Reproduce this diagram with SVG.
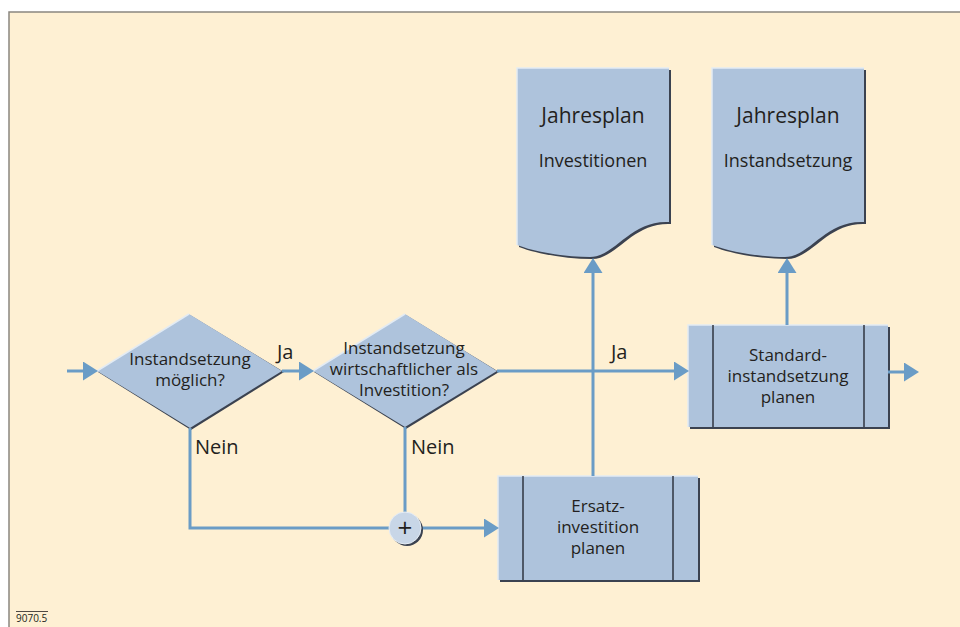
<svg xmlns="http://www.w3.org/2000/svg" width="960" height="627" viewBox="0 0 960 627">
<defs>
<style>
.bg{fill:#FEF0D3;stroke:none}
.frame{fill:none;stroke:#8a8780;stroke-width:1.5}
.shape{fill:#AEC3DC}
.shadow{fill:#3b4250}
.hl{fill:none;stroke:#e3ebf3;stroke-width:1.5}
.sep{stroke:#2f3440;stroke-width:1.5}
.conn{fill:none;stroke:#6A9CC6;stroke-width:3}
text{font-family:"Open Sans","Noto Sans",sans-serif;fill:#231f20;text-anchor:middle}
.t17{font-size:17px}
.t18{font-size:18px}
.t21{font-size:21px}
.lbl{font-size:20px;text-anchor:start}
.small{font-size:10px;text-anchor:start}
</style>
<marker id="ah" viewBox="0 0 15 19" markerWidth="15" markerHeight="19" refX="7" refY="9.5" orient="auto" markerUnits="userSpaceOnUse">
<path d="M0,0 L15,9.5 L0,19 Z" fill="#6A9CC6"/>
</marker>
</defs>
<rect class="bg" x="9" y="12" width="951" height="615"/>
<path class="frame" d="M9,627 V12 H960"/>

<g id="doc-investitionen">
<path class="shadow" d="M519,70 H671 V224 C632,222 617,259 592,259 C567,259 537,254 519,247 Z"/>
<path class="shape" d="M517,68 H669 V222 C630,220 615,257 590,257 C565,257 535,252 517,245 Z"/>
<path class="hl" d="M517,245 V68 H669"/>
<text class="t21" x="593" y="123">Jahresplan</text>
<text class="t18" x="593" y="167">Investitionen</text>
</g>

<g id="doc-instandsetzung">
<path class="shadow" d="M714,70 H866 V224 C827,222 812,259 787,259 C762,259 732,254 714,247 Z"/>
<path class="shape" d="M712,68 H864 V222 C825,220 810,257 785,257 C760,257 730,252 712,245 Z"/>
<path class="hl" d="M712,245 V68 H864"/>
<text class="t21" x="788" y="123">Jahresplan</text>
<text class="t18" x="788" y="167">Instandsetzung</text>
</g>

<g id="decision-moeglich">
<path class="shadow" d="M98,372 L190,315 L284,372 L191,430 Z"/>
<path class="shape" d="M97,371 L189,314 L282,371 L190,428 Z"/>
<path class="hl" d="M97,371 L189,314"/>
<text class="t17" x="190" y="365">Instandsetzung</text>
<text class="t17" x="190" y="386">möglich?</text>
</g>

<g id="decision-wirtschaftlich">
<path class="shadow" d="M314,372 L406,315 L499,372 L406,429 Z"/>
<path class="shape" d="M313,371 L405,314 L497,371 L405,427 Z"/>
<path class="hl" d="M313,371 L405,314"/>
<text class="t17" x="404" y="354">Instandsetzung</text>
<text class="t17" x="404" y="375">wirtschaftlicher als</text>
<text class="t17" x="404" y="396">Investition?</text>
</g>

<g id="process-standard">
<rect class="shadow" x="690" y="327" width="200" height="102"/>
<rect class="shape" x="688" y="325" width="200" height="102"/>
<path class="hl" d="M688,427 V325 H888"/>
<line class="sep" x1="713" y1="325" x2="713" y2="427"/>
<line class="sep" x1="864" y1="325" x2="864" y2="427"/>
<text class="t17" x="788" y="361">Standard-</text>
<text class="t17" x="788" y="382">instandsetzung</text>
<text class="t17" x="788" y="403">planen</text>
</g>

<g id="process-ersatz">
<rect class="shadow" x="500" y="478" width="200" height="104"/>
<rect class="shape" x="498" y="476" width="200" height="104"/>
<path class="hl" d="M498,580 V476 H698"/>
<line class="sep" x1="523" y1="476" x2="523" y2="580"/>
<line class="sep" x1="673" y1="476" x2="673" y2="580"/>
<text class="t17" x="598" y="512">Ersatz-</text>
<text class="t17" x="598" y="533">investition</text>
<text class="t17" x="598" y="554">planen</text>
</g>

<g id="connectors">
<path class="conn" d="M67,371 H90" marker-end="url(#ah)"/>
<path class="conn" d="M282,371 H306" marker-end="url(#ah)"/>
<path class="conn" d="M497,371 H681" marker-end="url(#ah)"/>
<path class="conn" d="M888,372 H911" marker-end="url(#ah)"/>
<path class="conn" d="M190,428 V528 H390"/>
<path class="conn" d="M405,427 V512"/>
<path class="conn" d="M421,528 H491" marker-end="url(#ah)"/>
<path class="conn" d="M593,476 V266" marker-end="url(#ah)"/>
<path class="conn" d="M787,325 V266" marker-end="url(#ah)"/>
</g>

<g id="junction">
<circle cx="407" cy="530" r="16" fill="#3b4250"/>
<circle cx="405" cy="528" r="16" fill="#C8D6E7" stroke="#e6edf5" stroke-width="1"/>
<text x="405" y="537" style="font-size:26px">+</text>
</g>

<g id="labels">
<text class="lbl" x="277" y="359">Ja</text>
<text class="lbl" x="611" y="359">Ja</text>
<text class="lbl" x="195" y="454">Nein</text>
<text class="lbl" x="411" y="454">Nein</text>
</g>

<g id="footer">
<line x1="16" y1="611.5" x2="48" y2="611.5" stroke="#231f20" stroke-width="0.8"/>
<text class="small" x="16" y="622">9070.5</text>
</g>
</svg>
